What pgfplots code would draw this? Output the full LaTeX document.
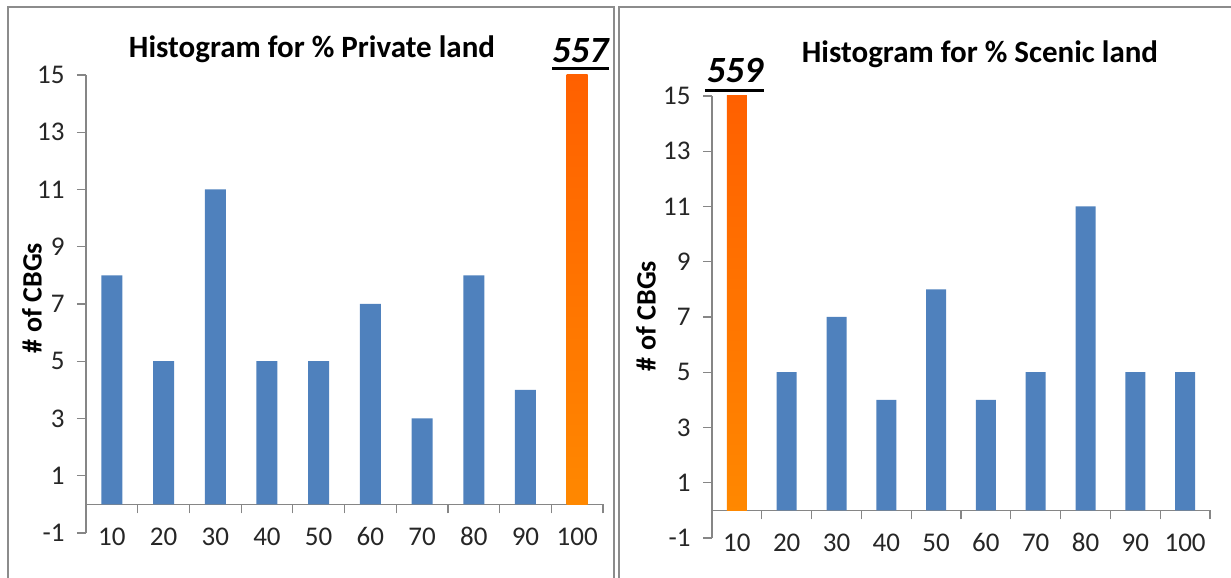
\documentclass[border=0pt]{standalone}
\usepackage{pgfplots}
\pgfplotsset{compat=1.18}
\usepackage{fontspec}
\setmainfont{Carlito}
\definecolor{barblue}{HTML}{4F81BD}
\definecolor{axgray}{HTML}{868686}
\definecolor{framegray}{HTML}{8C8C8C}
\definecolor{orTop}{HTML}{FF6000}
\definecolor{orBot}{HTML}{FF8800}
% the orange bar is far above the axis top (clipped); shading tuned to its visible part
\pgfdeclareverticalshading{orbarL}{100bp}{color(0bp)=(orBot); color(25bp)=(orBot); color(26.35bp)=(orTop); color(100bp)=(orTop)}
\pgfdeclareverticalshading{orbarR}{100bp}{color(0bp)=(orBot); color(25bp)=(orBot); color(26.34bp)=(orTop); color(100bp)=(orTop)}

\pgfplotsset{
  hist/.style={
    scale only axis,
    xmin=-0.5, xmax=9.5, ymin=-1, ymax=15,
    axis y line*=left, axis x line*=middle,
    hide obscured x ticks=false,
    axis line style={axgray, line width=1.2pt},
    ytick={-1,1,...,15},
    xtick={0,...,9},
    xticklabels={10,20,30,40,50,60,70,80,90,100},
    minor xtick={-0.5,0.5,...,9.5},
    major x tick style={draw=none},
    minor x tick style={axgray, line width=1.2pt},
    y tick style={axgray, line width=1.2pt},
    tick align=outside,
    major tick length=9pt, minor tick length=9pt,
    ybar, bar shift=0pt,
    /pgf/number format/assume math mode=true,
    ticklabel style={font=\fontsize{27}{32}\selectfont, text=black!85},
    yticklabel style={anchor=east, xshift=-9pt},
    xticklabel style={anchor=base, yshift=-32pt},
    clip mode=individual,
  }
}

\begin{document}
\begin{tikzpicture}[x=1pt,y=1pt]
\path[use as bounding box] (0pt,0pt) rectangle (1231pt,578pt);
% panel frames
\draw[framegray, line width=2pt] (8pt,-10pt) -- (8pt,571pt) -- (614pt,571pt) -- (614pt,-10pt);
\draw[framegray, line width=2pt] (619pt,-10pt) -- (619pt,571pt) -- (1245pt,571pt);

% ---------- left panel ----------
\begin{axis}[hist, at={(86pt,45pt)}, anchor=south west, width=517pt, height=458pt, bar width=21pt]
\addplot[fill=barblue, draw=none] coordinates {(0,8) (1,5) (2,11) (3,5) (4,5) (5,7) (6,3) (7,8) (8,4)};
\addplot[draw=none, shading=orbarL] coordinates {(9,557)};
\node[anchor=base, font=\bfseries\itshape\fontsize{37}{44}\selectfont, inner sep=0pt] at ([yshift=12pt,xshift=3pt]axis cs:9,15) {557};
\draw[black, line width=3pt] ([yshift=6pt,xshift=-25pt]axis cs:9,15) -- ([yshift=6pt,xshift=32pt]axis cs:9,15);
\end{axis}
\node[anchor=base, font=\bfseries\fontsize{31}{37}\selectfont] at (312pt,520pt) {Histogram for \% Private land};
\node[rotate=90, font=\bfseries\fontsize{28}{33}\selectfont] at (32pt,280pt) {\# of CBGs};

% ---------- right panel ----------
\begin{axis}[hist, at={(712pt,40pt)}, anchor=south west, width=498pt, height=442pt, bar width=20pt]
\addplot[fill=barblue, draw=none] coordinates {(1,5) (2,7) (3,4) (4,8) (5,4) (6,5) (7,11) (8,5) (9,5)};
\addplot[draw=none, shading=orbarR] coordinates {(0,559)};
\node[anchor=base, font=\bfseries\itshape\fontsize{37}{44}\selectfont, inner sep=0pt] at ([yshift=13pt,xshift=-2pt]axis cs:0,15) {559};
\draw[black, line width=3pt] ([yshift=5pt,xshift=-32pt]axis cs:0,15) -- ([yshift=5pt,xshift=27pt]axis cs:0,15);
\end{axis}
\node[anchor=base, font=\bfseries\fontsize{31}{37}\selectfont] at (980pt,515pt) {Histogram for \% Scenic land};
\node[rotate=90, font=\bfseries\fontsize{28}{33}\selectfont] at (646pt,262pt) {\# of CBGs};
\end{tikzpicture}
\end{document}
